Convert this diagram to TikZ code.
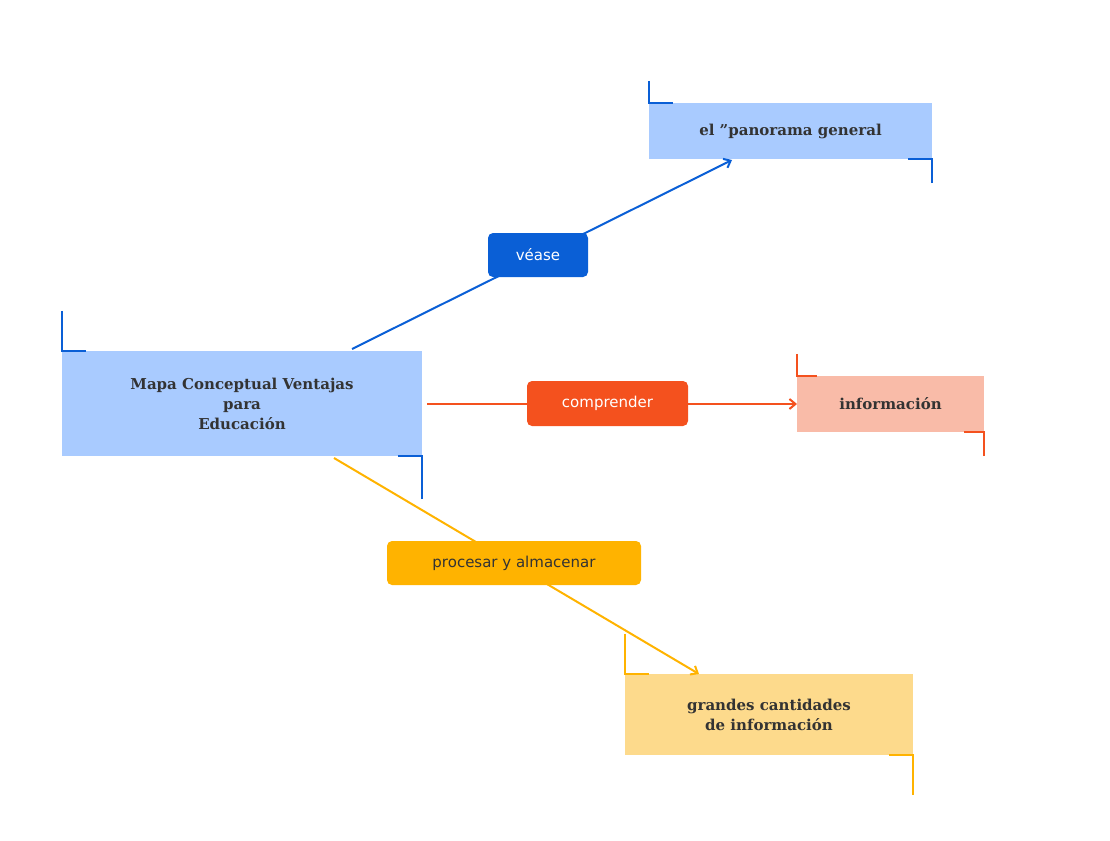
\documentclass[tikz,border=0pt]{standalone}
\usepackage{fontspec}
\setmainfont{DejaVu Serif}
\setsansfont{DejaVu Sans}
\usetikzlibrary{arrows.meta}
\definecolor{cblue}{HTML}{0A5FD6}
\definecolor{corange}{HTML}{F4511E}
\definecolor{cyellow}{HTML}{FFB300}
\definecolor{fblue}{HTML}{A9CBFF}
\definecolor{forange}{HTML}{F9BBA8}
\definecolor{fyellow}{HTML}{FDDA8C}
\definecolor{txt}{HTML}{333333}
\begin{document}
\begin{tikzpicture}[x=1pt,y=-1pt,
  topic/.style={draw=none,minimum width=#1,inner sep=0pt,align=center,text=txt,font=\fontsize{15}{20}\selectfont\bfseries},
  lab/.style={rounded corners=5pt,inner sep=0pt,minimum height=44pt,font=\sffamily\fontsize{15}{18}\selectfont},
  con/.style={line width=2pt,-{Straight Barb[length=6pt,width=10pt]}},
  brk/.style={line width=2.2pt}]
\useasboundingbox (0,0) rectangle (1110,840);
\node[topic=360pt,fill=fblue,minimum height=105pt] (main) at (242,403.5) {Mapa Conceptual Ventajas\\para\\Educación};
\node[topic=283pt,fill=fblue,minimum height=56pt] (pan) at (790.5,131) {el "panorama general};
\node[topic=187pt,fill=forange,minimum height=56pt] (inf) at (890.5,404) {información};
\node[topic=288pt,fill=fyellow,minimum height=81pt] (gra) at (769,714.5) {grandes cantidades\\de información};
% brackets
\draw[brk,cblue] ([yshift=40pt]main.north west) -- (main.north west) -- ([xshift=24pt]main.north west);
\draw[brk,cblue] ([yshift=-43pt]main.south east) -- (main.south east) -- ([xshift=-24pt]main.south east);
\draw[brk,cblue] ([yshift=22pt]pan.north west) -- (pan.north west) -- ([xshift=24pt]pan.north west);
\draw[brk,cblue] ([yshift=-24pt]pan.south east) -- (pan.south east) -- ([xshift=-24pt]pan.south east);
\draw[brk,corange] ([yshift=22pt]inf.north west) -- (inf.north west) -- ([xshift=20pt]inf.north west);
\draw[brk,corange] ([yshift=-24pt]inf.south east) -- (inf.south east) -- ([xshift=-20pt]inf.south east);
\draw[brk,cyellow] ([yshift=40pt]gra.north west) -- (gra.north west) -- ([xshift=24pt]gra.north west);
\draw[brk,cyellow] ([yshift=-40pt]gra.south east) -- (gra.south east) -- ([xshift=-24pt]gra.south east);
% connectors
\coordinate (s1) at (352,349); \coordinate (e1) at (732,160);
\coordinate (s2) at (427,404); \coordinate (e2) at (797,404);
\coordinate (s3) at (334,458); \coordinate (e3) at (699,674);
\draw[con,cblue] (s1) -- (e1);
\draw[con,corange] (s2) -- (e2);
\draw[con,cyellow] (s3) -- (e3);
\node[lab,fill=cblue,text=white,minimum width=100pt] (l1) at (538,255) {véase};
\node[lab,fill=corange,text=white,minimum width=161pt,minimum height=45pt] (l2) at (607.5,403.5) {comprender};
\node[lab,fill=cyellow,text=txt,minimum width=254pt] (l3) at (514,563) {procesar y almacenar};
\end{tikzpicture}
\end{document}
